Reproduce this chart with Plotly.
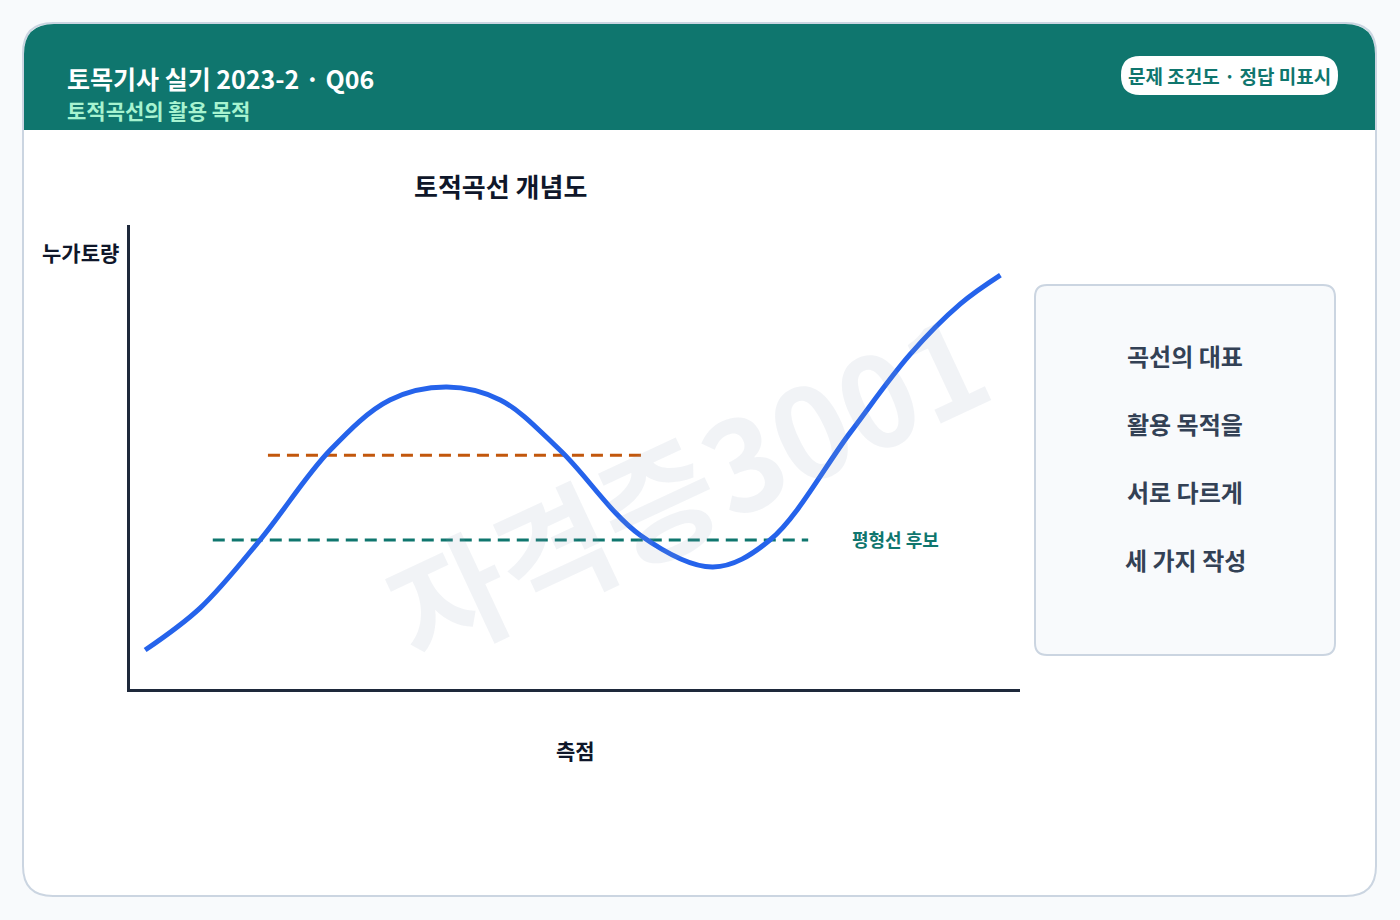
import plotly.graph_objects as go

W, H = 1400, 920

# mass curve (x: 측점, y: 누가토량, 0-100 scale)
curve_x = [1.7, 7.9, 14.6, 22.5, 29.2, 35.6, 41.6, 48.3, 57.3, 65.5, 71.9, 80.9, 87.6, 93.3, 97.8]
curve_y = [8.4, 17.5, 32.1, 51.5, 62.3, 65.1, 62.3, 51.5, 33.2, 26.3, 32.1, 55.2, 72.0, 83.0, 89.2]
orange_x = [15.5, 57.6]
orange_y = [50.4, 50.4]
green_x = [9.3, 76.2]
green_y = [32.1, 32.1]
box_lines = ["곡선의 대표", "활용 목적을", "서로 다르게", "세 가지 작성"]

FONT = "Noto Sans CJK KR"


def px(x):
    return x / W


def py(y):
    return 1 - y / H


def rrect(x0, y0, x1, y1, r, top_only=False):
    # rounded rectangle path in paper coords from pixel values
    rb = 0 if top_only else r
    pts = [
        f"M {px(x0 + r)},{py(y0)}",
        f"L {px(x1 - r)},{py(y0)}",
        f"Q {px(x1)},{py(y0)} {px(x1)},{py(y0 + r)}",
        f"L {px(x1)},{py(y1 - rb)}",
        f"Q {px(x1)},{py(y1)} {px(x1 - rb)},{py(y1)}",
        f"L {px(x0 + rb)},{py(y1)}",
        f"Q {px(x0)},{py(y1)} {px(x0)},{py(y1 - rb)}",
        f"L {px(x0)},{py(y0 + r)}",
        f"Q {px(x0)},{py(y0)} {px(x0 + r)},{py(y0)} Z",
    ]
    return " ".join(pts)


fig = go.Figure()

fig.add_trace(go.Scatter(x=orange_x, y=orange_y, mode='lines',
                         line=dict(color='#c2570c', width=3, dash='12px,7px'), hoverinfo='skip'))
fig.add_trace(go.Scatter(x=green_x, y=green_y, mode='lines',
                         line=dict(color='#0f766e', width=3, dash='12px,7px'), hoverinfo='skip'))
fig.add_trace(go.Scatter(x=curve_x, y=curve_y, mode='lines', line_shape='spline',
                         line=dict(color='#2563eb', width=5), hoverinfo='skip'))

shapes = [
    dict(type='path', xref='paper', yref='paper', path=rrect(23, 23, 1376, 896, 30),
         fillcolor='white', line=dict(color='#cbd5e1', width=2), layer='below'),
    dict(type='path', xref='paper', yref='paper', path=rrect(24, 24, 1375, 130, 30, top_only=True),
         fillcolor='#0f766e', line=dict(width=0), layer='below'),
    dict(type='path', xref='paper', yref='paper', path=rrect(1121, 56, 1338, 95, 19),
         fillcolor='white', line=dict(width=0), layer='below'),
    dict(type='path', xref='paper', yref='paper', path=rrect(1035, 285, 1335, 655, 12),
         fillcolor='#f8fafc', line=dict(color='#cbd5e1', width=2), layer='below'),
]

ann = [
    dict(x=px(65), y=py(78), text="<b>토목기사 실기 2023-2 · Q06</b>", xanchor='left',
         font=dict(size=25, color='white')),
    dict(x=px(65), y=py(110), text="<b>토적곡선의 활용 목적</b>", xanchor='left',
         font=dict(size=21, color='#a7f3d0')),
    dict(x=px(1229), y=py(76), text="<b>문제 조건도 · 정답 미표시</b>",
         font=dict(size=19, color='#0f766e')),
    dict(x=px(500), y=py(185), text="<b>토적곡선 개념도</b>", font=dict(size=26, color='#0f172a')),
    dict(x=px(80), y=py(252), text="<b>누가토량</b>", font=dict(size=21, color='#0f172a')),
    dict(x=px(575), y=py(750), text="<b>측점</b>", font=dict(size=21, color='#0f172a')),
    dict(x=px(685), y=py(482), text="<b>자격증3001</b>", textangle=-25,
         font=dict(size=125, color='rgba(148,163,184,0.13)')),
    dict(x=80.9, y=32.4, xref='x', yref='y', text="<b>평형선 후보</b>", xanchor='left',
         font=dict(size=18, color='#0f766e')),
]
for i, t in enumerate(box_lines):
    ann.append(dict(x=px(1185), y=py(355 + 68 * i), text=f"<b>{t}</b>",
                    font=dict(size=24, color='#334155')))
for a in ann:
    a.setdefault('xref', 'paper')
    a.setdefault('yref', 'paper')
    a.setdefault('xanchor', 'center')
    a['yanchor'] = 'middle'
    a['showarrow'] = False

fig.update_layout(
    width=W, height=H, margin=dict(l=0, r=0, t=0, b=0),
    paper_bgcolor='#f8fafc', plot_bgcolor='rgba(0,0,0,0)',
    font=dict(family=FONT),
    showlegend=False, shapes=shapes, annotations=ann,
    xaxis=dict(domain=[px(130), px(1020)], range=[0, 100], showgrid=False, zeroline=False,
               showticklabels=False, showline=True, linecolor='#1e293b', linewidth=3, fixedrange=True),
    yaxis=dict(domain=[py(689), py(225)], range=[0, 100], showgrid=False, zeroline=False,
               showticklabels=False, showline=True, linecolor='#1e293b', linewidth=3, fixedrange=True),
)

fig.write_html("out.html", config={'displayModeBar': False})

# drop the default body margin so the figure sits flush in the window
with open("out.html", encoding="utf-8") as f:
    html = f.read()
html = html.replace("<body>", '<body style="margin:0;overflow:hidden">', 1)
with open("out.html", "w", encoding="utf-8") as f:
    f.write(html)
